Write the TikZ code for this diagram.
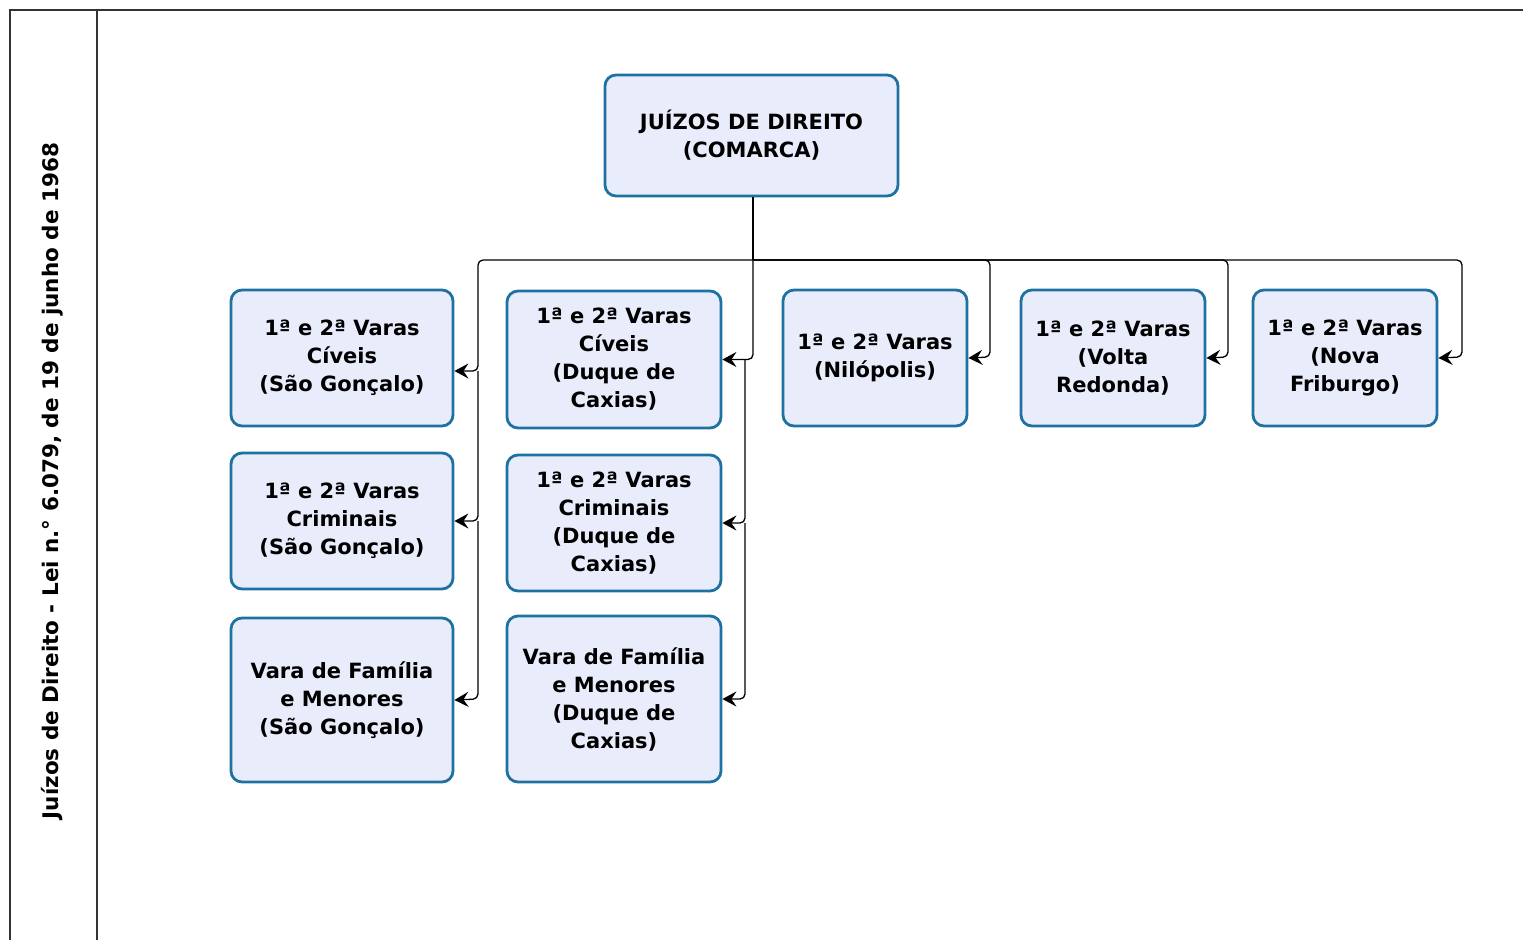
\documentclass[tikz,border=0pt]{standalone}
\usepackage{fontspec}
\setmainfont{DejaVu Sans}
\usetikzlibrary{arrows.meta}
\definecolor{boxfill}{HTML}{E9EDFB}
\definecolor{boxline}{HTML}{1E72A2}
\tikzset{
  vara/.style={draw=boxline, fill=boxfill, line width=2.8pt, rounded corners=11pt,
    align=center, font=\bfseries\fontsize{21}{28}\selectfont, inner sep=0pt},
  conn/.style={draw=black, line width=1.3pt, rounded corners=5pt,
    -{Stealth[length=14pt,width=15pt,inset=5pt]}},
}
\begin{document}
\begin{tikzpicture}[x=1pt,y=-1pt]
  \useasboundingbox (0,0) rectangle (1523,940);
  % moldura
  \draw[line width=1.4pt, black!80] (10,940) -- (10,10) -- (1523,10);
  \draw[line width=1.4pt, black!80] (97,10) -- (97,940);
  \node[rotate=90, font=\bfseries\fontsize{21.5}{24}\selectfont] (lei) at (52,481)
    {Juízos de Direito - Lei n.° 6.079, de 19 de junho de 1968};

  % caixas
  \node[vara, minimum width=293pt, minimum height=121pt] (comarca) at (751.5,135.5)
    {JUÍZOS DE DIREITO\\(COMARCA)};
  \node[vara, minimum width=222pt, minimum height=136pt] (civsg) at (342,358)
    {1ª e 2ª Varas\\Cíveis\\(São Gonçalo)};
  \node[vara, minimum width=222pt, minimum height=136pt] (crimsg) at (342,521)
    {1ª e 2ª Varas\\Criminais\\(São Gonçalo)};
  \node[vara, minimum width=222pt, minimum height=164pt] (famsg) at (342,700)
    {Vara de Família\\e Menores\\(São Gonçalo)};
  \node[vara, minimum width=214pt, minimum height=137pt] (civdc) at (614,359.5)
    {1ª e 2ª Varas\\Cíveis\\(Duque de\\Caxias)};
  \node[vara, minimum width=214pt, minimum height=136pt] (crimdc) at (614,523)
    {1ª e 2ª Varas\\Criminais\\(Duque de\\Caxias)};
  \node[vara, minimum width=214pt, minimum height=166pt] (famdc) at (614,699)
    {Vara de Família\\e Menores\\(Duque de\\Caxias)};
  \node[vara, minimum width=184pt, minimum height=136pt] (nil) at (875,358)
    {1ª e 2ª Varas\\(Nilópolis)};
  \node[vara, minimum width=184pt, minimum height=136pt] (vr) at (1113,358)
    {1ª e 2ª Varas\\(Volta\\Redonda)};
  \node[vara, minimum width=184pt, minimum height=136pt] (nf) at (1345,358)
    {1ª e 2ª Varas\\(Nova\\Friburgo)};

  % ligacoes
  \coordinate (j) at (753,260);
  \draw[line width=1.3pt] (comarca.south -| j) -- (j);
  \draw[conn] (j) -| (478,371) -- ([yshift=-13pt]civsg.east);
  \draw[conn] (478,371) -- (478,521) -- (crimsg.east);
  \draw[conn] (478,521) -- (478,699) -- (famsg.east);
  \draw[conn] (j) |- (civdc.east);
  \draw[conn] (745,360) -- (745,523) -- (crimdc.east);
  \draw[conn] (745,523) -- (745,699) -- (famdc.east);
  \draw[conn] (j) -| (990,357) -- (nil.east);
  \draw[conn] (j) -| (1228,357) -- (vr.east);
  \draw[conn] (j) -| (1462,357) -- (nf.east);
\end{tikzpicture}
\end{document}
